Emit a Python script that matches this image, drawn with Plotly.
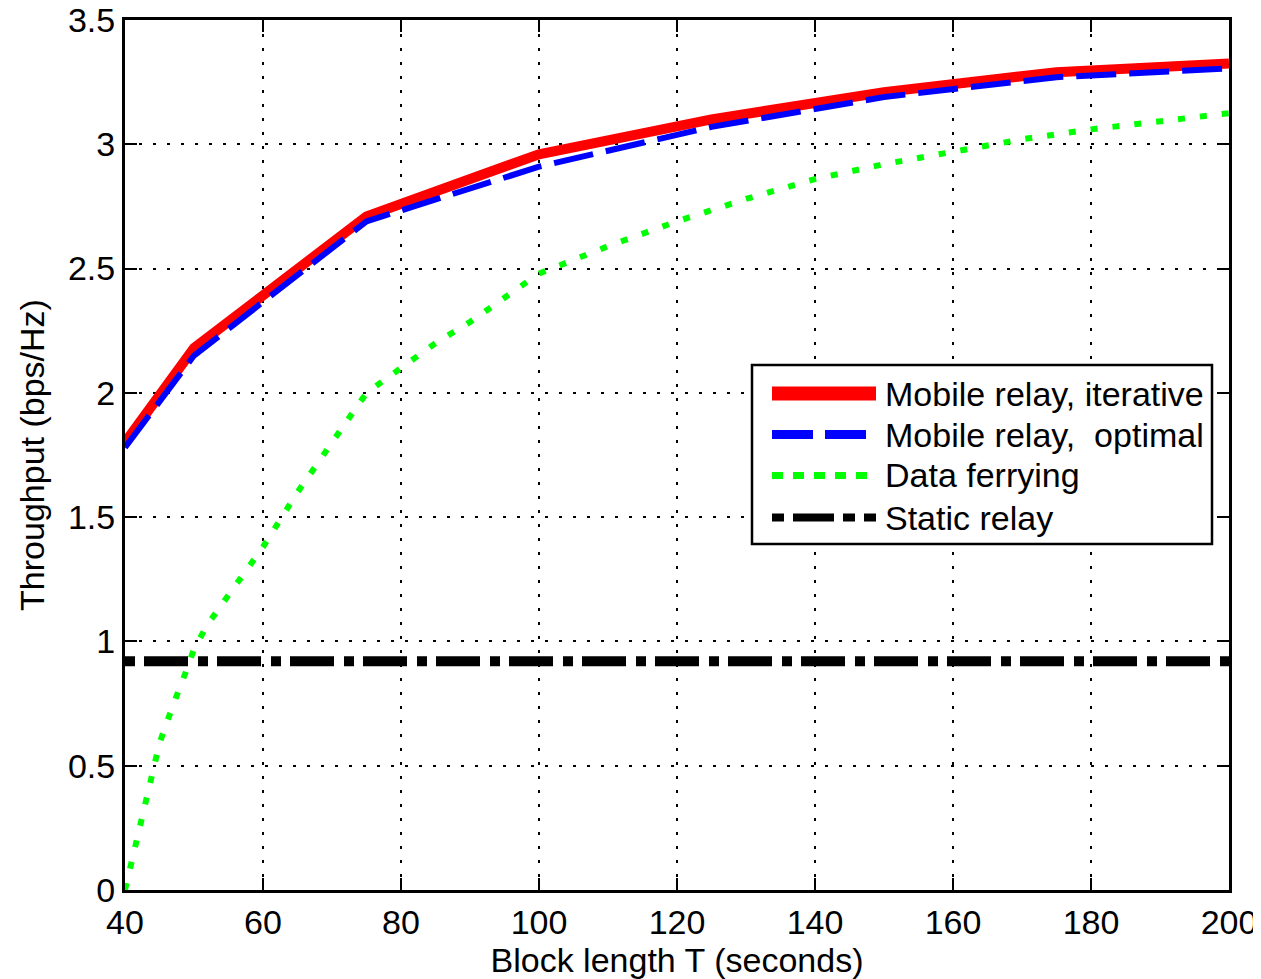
import plotly.graph_objects as go

# ---------------- data ----------------
T_mobile = [40, 50, 75, 100, 125, 150, 175, 200]
iterative = [1.80, 2.18, 2.71, 2.96, 3.10, 3.21, 3.29, 3.325]
optimal = [1.78, 2.15, 2.69, 2.91, 3.07, 3.19, 3.27, 3.305]

T_ferry = [40, 41, 42, 43, 44, 45, 46, 47, 48, 49, 50, 52, 55, 60, 65, 70, 75,
           80, 85, 90, 95, 100, 110, 120, 130, 140, 150, 160, 170, 180, 190, 200]
ferrying = [0.0, 0.12, 0.25, 0.37, 0.49, 0.59, 0.67, 0.75, 0.82, 0.89, 0.97,
            1.07, 1.19, 1.38, 1.60, 1.80, 2.00, 2.10, 2.20, 2.285, 2.385, 2.48,
            2.59, 2.69, 2.78, 2.86, 2.92, 2.97, 3.02, 3.06, 3.09, 3.125]

T_static = [40, 200]
static = [0.92, 0.92]

series_names = ["Mobile relay, iterative", "Mobile relay,  optimal",
                "Data ferrying", "Static relay"]
x_ticks = [40, 60, 80, 100, 120, 140, 160, 180, 200]
y_ticks = [0, 0.5, 1, 1.5, 2, 2.5, 3, 3.5]

# ---------------- figure geometry ----------------
# the page body has an 8px margin, so the figure is sized/offset to compensate
BODY = 8
W, H = 1261 - BODY, 979 - BODY
ML, MT = 125 - BODY, 20 - BODY
PW, PH = 1104, 870
MR = W - ML - PW
MB = H - MT - PH
FONT = "Liberation Sans, Arial, Helvetica, sans-serif"
FS = 34

fig = go.Figure()
fig.add_trace(go.Scatter(x=T_mobile, y=iterative, mode="lines", name=series_names[0],
                         line=dict(color="#ff0000", width=10)))
fig.add_trace(go.Scatter(x=T_mobile, y=optimal, mode="lines", name=series_names[1],
                         line=dict(color="#0000ff", width=6, dash="40px,13px")))
fig.add_trace(go.Scatter(x=T_ferry, y=ferrying, mode="lines", name=series_names[2],
                         line=dict(color="#00ff00", width=6, dash="7px,15px")))
fig.add_trace(go.Scatter(x=T_static, y=static, mode="lines", name=series_names[3],
                         line=dict(color="#000000", width=10, dash="10px,9px,44px,10px")))

axis_common = dict(
    showline=True, linecolor="black", linewidth=3, mirror="ticks",
    ticks="inside", ticklen=12, tickwidth=2, tickcolor="black",
    showgrid=True, gridcolor="black", gridwidth=2, griddash="3px,11px",
    zeroline=False, automargin=False, ticklabeloverflow="allow",
    tickfont=dict(family=FONT, size=FS, color="black"),
)

fig.update_xaxes(range=[40, 200], tickvals=x_ticks,
                 title=dict(text="Block length T (seconds)", standoff=4,
                            font=dict(family=FONT, size=FS, color="black")),
                 **axis_common)
fig.update_yaxes(range=[0, 3.5], tickvals=y_ticks,
                 title=dict(text="Throughput (bps/Hz)", standoff=14,
                            font=dict(family=FONT, size=FS, color="black")),
                 **axis_common)

# ---------------- custom legend (box drawn in paper coordinates) ----------------
def px_x(p):
    return (p - BODY - ML) / PW


def px_y(p):
    return (BODY + MT + PH - p) / PH


shapes = [dict(type="rect", xref="paper", yref="paper", layer="above",
               x0=px_x(752), x1=px_x(1212), y0=px_y(544), y1=px_y(365),
               line=dict(color="black", width=2.5), fillcolor="white")]
rows_y = [393.5, 434.5, 475.5, 517.5]
legend_styles = [
    dict(color="#ff0000", width=14),
    dict(color="#0000ff", width=9, dash="41px,12px"),
    dict(color="#00ff00", width=7, dash="11px,10px"),
    dict(color="#000000", width=8, dash="12px,9px,41px,9px"),
]
annotations = []
for name, ry, st in zip(series_names, rows_y, legend_styles):
    shapes.append(dict(type="line", xref="paper", yref="paper", layer="above",
                       x0=px_x(772), x1=px_x(876), y0=px_y(ry), y1=px_y(ry), line=st))
    annotations.append(dict(xref="paper", yref="paper", x=px_x(883), y=px_y(ry),
                            text=name.replace("  ", "&nbsp; "), showarrow=False,
                            xanchor="left", yanchor="middle",
                            font=dict(family=FONT, size=FS, color="black")))

fig.update_layout(
    width=W, height=H, autosize=False,
    margin=dict(l=ML, r=MR, t=MT, b=MB, pad=0),
    paper_bgcolor="white", plot_bgcolor="white",
    showlegend=False, shapes=shapes, annotations=annotations,
    font=dict(family=FONT, size=FS, color="black"),
)

fig.write_html("out.html")
